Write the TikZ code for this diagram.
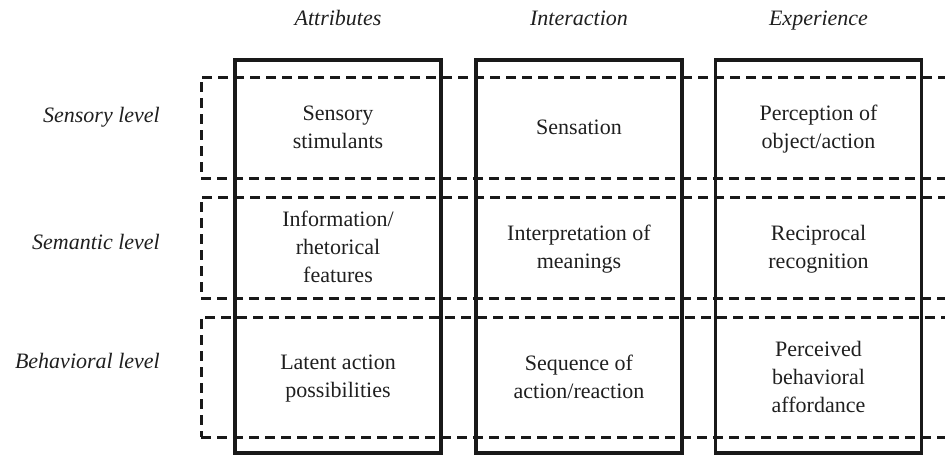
\documentclass[tikz,border=0pt]{standalone}
\usepackage{fontspec}
\setmainfont{Liberation Serif}
\begin{document}
\begin{tikzpicture}[x=1pt,y=-1pt,
  txt/.style={font=\fontsize{22}{28}\selectfont, align=center, text=black!88, inner sep=0pt},
  head/.style={font=\fontsize{22}{28}\selectfont\itshape, text=black!88, inner sep=0pt, anchor=base},
  rowlabel/.style={head, anchor=base east},
  colbox/.style={draw=black!90, line width=3.4pt, minimum width=206pt, minimum height=393pt, inner sep=0pt},
  rowbox/.style={draw=black!90, line width=3pt, dash pattern=on 10pt off 6pt, inner sep=0pt, minimum width=779pt}
]
\useasboundingbox (0,0) rectangle (945,455);
\clip (0,0) rectangle (945,455);

% column frames
\node[colbox] (cattr) at (338,256.5) {};
\node[colbox] (cinter) at (579,256.5) {};
\node[colbox] (cexp) at (818.5,256.5) {};

% dashed level bands (running off the right edge)
\node[rowbox, minimum height=101pt] (rsens) at (590.5,127.5) {};
\node[rowbox, minimum height=101pt] (rsem) at (590.5,247.5) {};
\node[rowbox, minimum height=120pt] (rbeh) at (590.5,377) {};

% column headings
\node[head] (hattr) at (338,25) {Attributes};
\node[head] (hinter) at (579,25) {Interaction};
\node[head] (hexp) at (818.5,25) {Experience};

% level labels
\node[rowlabel] (lsens) at (160,122) {Sensory level};
\node[rowlabel] (lsem) at (160,249) {Semantic level};
\node[rowlabel] (lbeh) at (160,368) {Behavioral level};

% cells
\node[txt] (a1) at (338,127.5) {Sensory\\stimulants};
\node[txt] (i1) at (579,127.5) {Sensation};
\node[txt] (e1) at (818.5,129.5) {Perception of\\object/action};

\node[txt] (a2) at (338,247) {Information/\\rhetorical\\features};
\node[txt] (i2) at (579,249.5) {Interpretation of\\meanings};
\node[txt] (e2) at (818.5,249.5) {Reciprocal\\recognition};

\node[txt] (a3) at (338,378.5) {Latent action\\possibilities};
\node[txt] (i3) at (579,376.5) {Sequence of\\action/reaction};
\node[txt] (e3) at (818.5,377) {Perceived\\behavioral\\affordance};
\end{tikzpicture}
\end{document}
